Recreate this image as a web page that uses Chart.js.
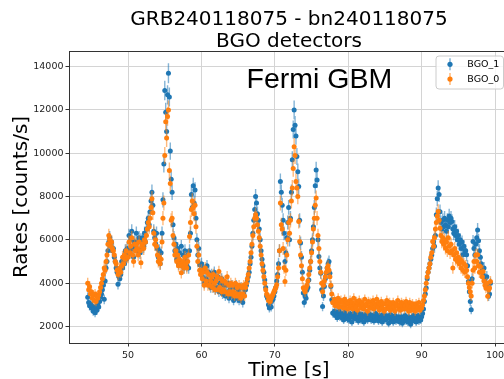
<!DOCTYPE html>
<html>
<head>
<meta charset="utf-8">
<script src="https://cdn.jsdelivr.net/npm/chart.js@4.4.1/dist/chart.umd.min.js"></script>
<style>
  html, body { margin: 0; padding: 0; background: #fff; overflow: hidden; }
  #wrap { width: 514px; height: 379px; }
</style>
</head>
<body>
<div id="wrap"><canvas id="chart" width="514" height="379"></canvas></div>
<script>
// time bins (s) and error-bar bin width used for Poisson errors
const binStart = 44.5;
const binWidth = 0.125;
const errBin = 0.064;

// BGO_1 rates [counts/s], one row per second
const bgo1 = [
  3350, 3100, 2950, 3050,
  2850, 2950, 2700, 2800, 2630, 2900, 2750, 3000,
  2900, 3150, 3350, 3500, 3700, 3900, 3250, 4100,
  4700, 5000, 5500, 5900, 6100, 5700, 5900, 5500,
  5600, 5200, 5000, 4700, 4500, 3950, 4300, 4200,
  4400, 5000, 4700, 5200, 4900, 5500, 5100, 5600,
  5300, 6200, 5500, 6000, 6400, 5600, 5200, 5900,
  5700, 6300, 5500, 5900, 6100, 5400, 6000, 5600,
  6100, 5700, 6300, 5900, 6500, 6800, 7000, 6700,
  7300, 7800, 8200, 7600, 6400, 6100, 5800, 6300,
  5600, 5200, 5500, 4900, 5400, 6300, 7850, 9500,
  12900, 11900, 11000, 12700, 13700, 12600, 10100, 8800,
  8200, 6700, 6100, 5500, 5800, 5100, 5600, 4900,
  5400, 5000, 5700, 4800, 5300, 4700, 5500, 5000,
  4800, 5300, 4700, 5500, 6300, 8100, 7500, 8500,
  7700, 8300, 7000, 6000, 5300, 5600, 4850, 4600,
  4900, 4300, 4700, 4000, 4600, 4200, 4800, 4100,
  4500, 4000, 3800, 4400, 4100, 3800, 4500, 3700,
  4200, 3800, 4300, 3600, 4000, 3700, 4200, 3500,
  3900, 3600, 3400, 3900, 3500, 4000, 3300, 3700,
  3500, 3900, 3400, 3200, 3800, 3400, 3900, 3300,
  3700, 3200, 3500, 3800, 3300, 3100, 3500, 3700,
  3700, 3900, 4100, 4300, 4500, 4900, 5200, 5700,
  6300, 6900, 7400, 8000, 7700, 7200, 6900, 6500,
  6000, 5500, 5100, 4800, 4500, 4150, 3800, 3400,
  3300, 3000, 2850, 3100, 2900, 3200, 3250, 3400,
  3600, 3800, 4100, 4400, 4900, 5500, 8700, 8200,
  7600, 6900, 6300, 5000, 5400, 6100, 6800, 7500,
  6000, 7000, 8200, 9700, 11100, 12000, 11300, 10800,
  9850, 9150, 8460, 6900, 5850, 5200, 4500, 3540,
  3100, 3400, 3300, 3700, 3800, 4150, 4600, 5000,
  5500, 6000, 6600, 7500, 8500, 9230, 8770, 6000,
  5230, 4700, 4460, 3700, 2920, 3400, 3850, 4200,
  4460, 4700, 4900, 5000, 4460, 3850, 3230, 2620,
  2600, 2700, 2500, 2650, 2400, 2550, 2700, 2450,
  2600, 2400, 2550, 2300, 2650, 2450, 2500, 2350,
  2500, 2300, 2600, 2450, 2200, 2550, 2400, 2650,
  2350, 2500, 2450, 2250, 2600, 2400, 2300, 2550,
  2450, 2200, 2500, 2350, 2600, 2300, 2450, 2400,
  2550, 2300, 2400, 2500, 2250, 2450, 2600, 2350,
  2400, 2250, 2500, 2350, 2450, 2200, 2550, 2400,
  2300, 2500, 2350, 2450, 2150, 2400, 2550, 2300,
  2450, 2200, 2350, 2500, 2250, 2400, 2300, 2450,
  2200, 2350, 2450, 2150, 2400, 2300, 2500, 2250,
  2350, 2200, 2450, 2300, 2100, 2400, 2250, 2500,
  2300, 2450, 2200, 2350, 2500, 2250, 2400, 2300,
  2450, 2600, 2800, 3150, 3500, 3770, 4200, 4500,
  4700, 4900, 5100, 5300, 5600, 5900, 5700, 6200,
  7160, 7900, 8390, 8100, 7300, 6800, 6500, 6900,
  6600, 7000, 6700, 6400, 6900, 6600, 7100, 6800,
  7000, 6850, 6500, 6300, 6600, 6200, 6400, 6000,
  6200, 5800, 6000, 5600, 5900, 5310, 5700, 5500,
  5500, 5310, 4800, 4080, 3600, 3150, 2770, 4200,
  5920, 5600, 5300, 5800, 6100, 6460, 5960, 5500,
  5200, 4900, 4600, 4400, 4700, 4200, 3900, 4300,
  3800, 3400, 3500, 4000
];

// BGO_0 rates [counts/s]
const bgo0 = [
  4000, 3700, 3850, 3500,
  3600, 3300, 3450, 3200, 3500, 3150, 3400, 3300,
  3450, 3600, 3800, 4000, 4200, 4400, 4700, 4600,
  5000, 5300, 5800, 6200, 6000, 5700, 5900, 5600,
  5500, 5300, 5000, 4900, 4600, 4400, 4500, 4700,
  4500, 4800, 5200, 4900, 5300, 5100, 5500, 5200,
  5200, 5900, 5400, 5700, 6100, 5300, 5000, 5800,
  5500, 5800, 5600, 5300, 5900, 5500, 4940, 5700,
  5800, 5600, 6000, 5900, 6200, 6500, 6800, 6600,
  7000, 7500, 7900, 7250, 6300, 5800, 6000, 5700,
  5300, 5000, 5200, 4900, 5100, 5900, 7000, 7700,
  9900, 11460, 10700, 11700, 12000, 9200, 8600, 6900,
  7000, 6200, 5800, 5300, 5500, 5000, 5300, 4800,
  5100, 4900, 4480, 4800, 5000, 4700, 5200, 4900,
  4700, 5000, 5300, 6150, 6800, 7400, 7800, 7500,
  7200, 7600, 6600, 5700, 5000, 5300, 4600, 4400,
  4600, 4200, 4500, 3900, 4700, 4100, 4500, 3900,
  4400, 3900, 4100, 4300, 3800, 4400, 4000, 3700,
  4100, 4300, 3700, 4540, 3800, 4200, 3600, 4100,
  3700, 4100, 3600, 4000, 4300, 3500, 3900, 3600,
  4000, 3500, 3900, 3600, 3400, 4000, 3500, 3800,
  3400, 3900, 3500, 3300, 3800, 3500, 3900, 3400,
  3800, 4000, 4200, 4400, 4700, 5000, 5400, 5800,
  6200, 6600, 7000, 7160, 7000, 6700, 6400, 6100,
  5700, 5300, 4900, 4600, 4300, 4000, 3700, 3500,
  3400, 3200, 3300, 3150, 3300, 3400, 3500, 3600,
  3700, 3800, 3920, 4300, 4700, 5500, 7700, 6700,
  6500, 5600, 4710, 4080, 4600, 5300, 6000, 6800,
  6300, 6900, 7800, 8400, 9300, 10300, 9900, 8700,
  8390, 8000, 6850, 5920, 5300, 4800, 4200, 3790,
  3700, 3600, 3790, 3900, 4100, 4400, 4700, 5000,
  5400, 5900, 6500, 7000, 7600, 7930, 7000, 6200,
  5600, 5000, 4500, 4000, 3600, 3900, 4100, 4300,
  4500, 4700, 4800, 4600, 4300, 3900, 3500, 3100,
  3100, 3250, 2950, 3150, 3000, 3300, 2900, 3100,
  3200, 2900, 3100, 2850, 3250, 3000, 3150, 2800,
  3050, 2850, 3200, 2950, 3100, 2800, 3300, 3000,
  2900, 3150, 2750, 3050, 3200, 2950, 2850, 3100,
  3000, 2800, 3250, 2950, 3050, 2700, 3150, 2900,
  3100, 2850, 3000, 3200, 2800, 3050, 2950, 3250,
  2900, 3100, 2750, 3000, 3150, 2850, 3050, 2700,
  3050, 2800, 3200, 2950, 2850, 3100, 2750, 3000,
  2850, 3100, 2900, 2700, 3050, 2950, 3200, 2800,
  3000, 2750, 3100, 2900, 3050, 2800, 2950, 3150,
  2800, 3000, 2700, 3100, 2900, 2750, 3050, 2850,
  2950, 2700, 3050, 2800, 2900, 3100, 2750, 2900,
  2850, 3000, 3200, 3400, 3700, 4000, 4300, 4500,
  4700, 4900, 5200, 5400, 5920, 5700, 6100, 6500,
  6800, 7100, 7310, 6900, 6540, 6200, 5920, 6100,
  5800, 6000, 5620, 5900, 5500, 6100, 5700, 5400,
  5800, 5500, 4700, 5300, 5600, 5100, 5400, 5000,
  5200, 4900, 5100, 4700, 5000, 4600, 4900, 4500,
  4800, 4600, 4300, 4000, 3800, 3600, 3400, 4000,
  4600, 5000, 4700, 5300, 5000, 5310, 4800, 4500,
  4770, 4500, 4300, 4540, 4100, 3900, 3770, 4000,
  3390, 3700, 3770, 4080
];

const seriesNames = ["BGO_1", "BGO_0"];
const seriesColors = ["#1f77b4", "#ff7f0e"];
const xTicks = [50, 60, 70, 80, 90, 100];
const yTicks = [2000, 4000, 6000, 8000, 10000, 12000, 14000];
const titleLines = ["GRB240118075 - bn240118075", "BGO detectors"];
const xLabel = "Time [s]";
const yLabel = "Rates [counts/s]";
const stamp = "Fermi GBM";

const toPoints = vals => vals.map((v, i) => ({ x: binStart + i * binWidth, y: v }));

function rgba(hex, a) {
  const n = parseInt(hex.slice(1), 16);
  return `rgba(${n >> 16}, ${(n >> 8) & 255}, ${n & 255}, ${a})`;
}

// vertical error bars, drawn just before each dataset's markers
const errorBars = {
  id: "errorBars",
  beforeDatasetDraw(chart, args) {
    const ds = chart.data.datasets[args.index];
    const ys = chart.scales.y;
    const a = chart.chartArea;
    const ctx = chart.ctx;
    ctx.save();
    ctx.beginPath();
    ctx.rect(a.left, a.top, a.right - a.left, a.bottom - a.top);
    ctx.clip();
    ctx.strokeStyle = rgba(ds.baseColor, 0.55);
    ctx.lineWidth = 1.4;
    ctx.beginPath();
    args.meta.data.forEach((pt, i) => {
      const v = ds.data[i].y;
      const e = Math.sqrt(v / errBin);
      ctx.moveTo(pt.x, ys.getPixelForValue(v + e));
      ctx.lineTo(pt.x, ys.getPixelForValue(v - e));
    });
    ctx.stroke();
    ctx.restore();
  }
};

// titles, axis labels, top spine, stamp and legend
const decorations = {
  id: "decorations",
  afterDraw(chart) {
    const ctx = chart.ctx;
    const a = chart.chartArea;
    const cx = (a.left + a.right) / 2;
    ctx.save();

    ctx.strokeStyle = "#333";
    ctx.lineWidth = 1;
    ctx.beginPath();
    ctx.moveTo(a.left, a.top + 0.5);
    ctx.lineTo(a.right, a.top + 0.5);
    ctx.stroke();

    ctx.fillStyle = "#000";
    ctx.textAlign = "center";
    ctx.textBaseline = "alphabetic";
    ctx.font = "20px 'DejaVu Sans'";
    ctx.fillText(titleLines[0], cx, 25);
    ctx.fillText(titleLines[1], cx, 47);
    ctx.fillText(xLabel, cx, 376);

    ctx.save();
    ctx.translate(26.5, (a.top + a.bottom) / 2);
    ctx.rotate(-Math.PI / 2);
    ctx.fillText(yLabel, 0, 0);
    ctx.restore();

    ctx.textAlign = "left";
    ctx.font = "28.5px 'Liberation Sans'";
    ctx.fillText(stamp, 246.5, 87.5);

    // legend box
    const bx = 436, by = 56, bw = 67.5, bh = 33, r = 3;
    ctx.beginPath();
    ctx.moveTo(bx + r, by);
    ctx.arcTo(bx + bw, by, bx + bw, by + bh, r);
    ctx.arcTo(bx + bw, by + bh, bx, by + bh, r);
    ctx.arcTo(bx, by + bh, bx, by, r);
    ctx.arcTo(bx, by, bx + bw, by, r);
    ctx.closePath();
    ctx.fillStyle = "rgba(255,255,255,0.8)";
    ctx.fill();
    ctx.strokeStyle = "#cccccc";
    ctx.lineWidth = 1;
    ctx.stroke();

    ctx.font = "9.5px 'DejaVu Sans'";
    ctx.textBaseline = "middle";
    seriesNames.forEach((name, i) => {
      const my = 64.3 + i * 14.8;
      ctx.strokeStyle = rgba(seriesColors[i], 0.6);
      ctx.lineWidth = 1.4;
      ctx.beginPath();
      ctx.moveTo(450, my - 6);
      ctx.lineTo(450, my + 6);
      ctx.stroke();
      ctx.fillStyle = seriesColors[i];
      ctx.beginPath();
      ctx.arc(450, my, 2.6, 0, Math.PI * 2);
      ctx.fill();
      ctx.fillStyle = "#000";
      ctx.fillText(name, 467.3, my + 0.5);
    });
    ctx.restore();
  }
};

const tickFont = { family: "DejaVu Sans", size: 9.5 };

new Chart(document.getElementById("chart"), {
  type: "scatter",
  data: {
    datasets: [
      { label: seriesNames[0], data: toPoints(bgo1), baseColor: seriesColors[0],
        backgroundColor: seriesColors[0], pointRadius: 2.5, pointBorderWidth: 0, order: 2 },
      { label: seriesNames[1], data: toPoints(bgo0), baseColor: seriesColors[1],
        backgroundColor: seriesColors[1], pointRadius: 2.5, pointBorderWidth: 0, order: 1 }
    ]
  },
  options: {
    responsive: false,
    animation: false,
    layout: { padding: { top: 51, right: 5, left: 0, bottom: 0 } },
    plugins: { legend: { display: false }, tooltip: { enabled: false }, title: { display: false } },
    scales: {
      x: {
        type: "linear", min: 41.95, max: 101.9,
        afterBuildTicks: s => { s.ticks = xTicks.map(v => ({ value: v })); },
        afterFit: s => { s.height = 36; },
        grid: { color: "#d4d4d4", lineWidth: 1, tickLength: 3.5, tickColor: "#333" },
        border: { color: "#333", width: 1 },
        ticks: { font: tickFont, color: "#222", padding: 3, maxRotation: 0, callback: v => String(v) }
      },
      y: {
        type: "linear", min: 1234, max: 14725,
        afterBuildTicks: s => { s.ticks = yTicks.map(v => ({ value: v })); },
        afterFit: s => { s.width = 69; },
        grid: { color: "#d4d4d4", lineWidth: 1, tickLength: 3.5, tickColor: "#333" },
        border: { color: "#333", width: 1 },
        ticks: { font: tickFont, color: "#222", padding: 2, callback: v => String(v) }
      }
    }
  },
  plugins: [errorBars, decorations]
});
</script>
</body>
</html>
